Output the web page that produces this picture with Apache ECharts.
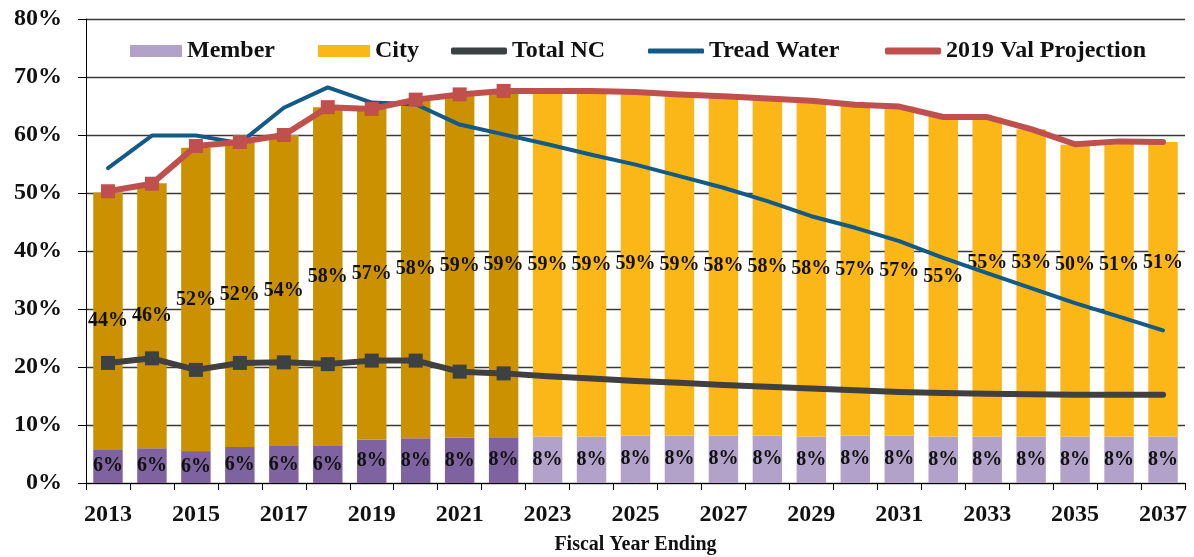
<!DOCTYPE html>
<html>
<head>
<meta charset="utf-8">
<script src="https://cdn.jsdelivr.net/npm/echarts@6/dist/echarts.min.js"></script>
<style>
  html, body { margin: 0; padding: 0; background: #fff; }
  #chart { width: 1194px; height: 557px; }
</style>
</head>
<body>
<div id="chart"></div>
<script>
// fiscal years, actuals through 2022, projections after
const years = ["2013","2014","2015","2016","2017","2018","2019","2020","2021","2022","2023","2024","2025",
  "2026","2027","2028","2029","2030","2031","2032","2033","2034","2035","2036","2037"];
const lastActualYear = 2022;

// contribution rates, % of payroll
const member = [5.8, 6.0, 5.5, 6.2, 6.4, 6.4, 7.5, 7.7, 7.8, 7.9, 8.0, 8.0, 8.2,
  8.2, 8.2, 8.2, 8.0, 8.2, 8.2, 8.0, 8.0, 8.0, 8.0, 8.0, 8.0];
const city = [44.3, 45.7, 52.3, 52.4, 53.6, 58.4, 57.0, 58.3, 59.2, 59.4, 59.4, 59.4, 59.1,
  58.8, 58.4, 58.1, 57.8, 57.0, 56.7, 55.1, 55.0, 53.0, 50.3, 50.8, 50.8];
const totalNC = [20.7, 21.5, 19.5, 20.7, 20.8, 20.5, 21.1, 21.1, 19.2, 18.9, 18.4, 18.0, 17.6,
  17.3, 16.9, 16.6, 16.3, 16.0, 15.7, 15.5, 15.4, 15.3, 15.2, 15.2, 15.2];
const treadWater = [54.3, 59.9, 59.9, 58.6, 64.7, 68.2, 65.6, 65.3, 61.8, 60.1, 58.4, 56.6, 54.9,
  52.9, 50.9, 48.6, 46.0, 44.0, 41.7, 38.8, 36.2, 33.6, 31.0, 28.7, 26.3];
const valProjection = [50.3, 51.6, 58.1, 58.8, 60.0, 64.8, 64.5, 66.1, 67.0, 67.6, 67.6, 67.6, 67.4,
  67.0, 66.7, 66.3, 65.9, 65.2, 64.9, 63.1, 63.1, 61.0, 58.4, 58.9, 58.8];

const yTicks = { min: 0, max: 80, interval: 10 };

const FONT = "'Liberation Serif', 'Times New Roman', serif";
const C = {
  memberDark: "#7f63a1", memberLight: "#b2a1c8",
  cityDark: "#cb9100", cityLight: "#fbb718",
  nc: "#404040", ncMarker: "#3b4241",
  tread: "#135a86", val: "#c0504d",
  grid: "#3a3a3a",
};

const isActual = (i) => Number(years[i]) <= lastActualYear;

// the last few city labels were dragged up by hand in the original
const cityLabelLift = { 2033: 14, 2034: 20, 2035: 26, 2036: 24, 2037: 26 };

const barData = (vals, dark, light, lift) =>
  vals.map((v, i) => {
    const d = { value: v, itemStyle: { color: isActual(i) ? dark : light } };
    if (lift && lift[years[i]]) d.label = { offset: [0, -lift[years[i]]] };
    return d;
  });

const pctLabel = {
  show: true,
  position: "inside",
  fontFamily: FONT,
  fontWeight: "bold",
  fontSize: 20,
  color: "#111",
  formatter: (p) => Math.round(p.value) + "%",
};

const legendText = { fontFamily: FONT, fontWeight: "bold", fontSize: 24, color: "#111" };
const legendAt = (name, left, icon, w, h) => ({
  data: [name], left, top: 34, icon, itemWidth: w, itemHeight: h, textStyle: legendText,
  selectedMode: false,
});

const chart = echarts.init(document.getElementById("chart"), null, { renderer: "canvas" });

chart.setOption({
  animation: false,
  backgroundColor: "#fff",
  grid: { left: 86, right: 9, top: 19, bottom: 74, containLabel: false, outerBoundsMode: "none" },
  legend: [
    legendAt("Member", 125, "rect", 52, 12),
    legendAt("City", 313, "rect", 52, 12),
    legendAt("Total NC", 446, "roundRect", 56, 7),
    legendAt("Tread Water", 643, "roundRect", 56, 5),
    legendAt("2019 Val Projection", 880, "roundRect", 56, 7),
  ],
  xAxis: {
    type: "category",
    data: years,
    boundaryGap: true,
    name: "Fiscal Year Ending",
    nameLocation: "middle",
    nameGap: 52,
    nameTextStyle: { fontFamily: FONT, fontWeight: "bold", fontSize: 20, color: "#111" },
    axisLine: { lineStyle: { color: "#000", width: 1 } },
    axisTick: { show: true, interval: 0, length: 7, lineStyle: { color: "#000" } },
    axisLabel: {
      interval: 1,
      margin: 20,
      fontFamily: FONT, fontWeight: "bold", fontSize: 24, color: "#111",
    },
    splitLine: { show: false },
  },
  yAxis: {
    type: "value",
    min: yTicks.min,
    max: yTicks.max,
    interval: yTicks.interval,
    axisLine: { show: true, lineStyle: { color: "#000", width: 1 } },
    axisTick: { show: true, length: 8, lineStyle: { color: "#000" } },
    axisLabel: {
      margin: 24,
      formatter: "{value}%",
      fontFamily: FONT, fontWeight: "bold", fontSize: 24, color: "#111",
    },
    splitLine: { show: true, lineStyle: { color: C.grid, width: 1.3 } },
  },
  tooltip: { show: false },
  series: [
    {
      name: "Member",
      type: "bar",
      stack: "rate",
      barCategoryGap: "33%",
      color: C.memberLight,
      data: barData(member, C.memberDark, C.memberLight),
      label: pctLabel,
    },
    {
      name: "City",
      type: "bar",
      stack: "rate",
      color: C.cityLight,
      data: barData(city, C.cityDark, C.cityLight, cityLabelLift),
      label: pctLabel,
    },
    {
      name: "Total NC",
      type: "line",
      data: totalNC,
      color: C.nc,
      symbol: (v, p) => (isActual(p.dataIndex) ? "rect" : "none"),
      symbolSize: 14,
      itemStyle: { color: C.ncMarker },
      lineStyle: { width: 6, color: C.nc, cap: "round", join: "round" },
      z: 3,
    },
    {
      name: "Tread Water",
      type: "line",
      data: treadWater,
      color: C.tread,
      symbol: "none",
      lineStyle: { width: 4, color: C.tread, cap: "round", join: "round" },
      z: 3,
    },
    {
      name: "2019 Val Projection",
      type: "line",
      data: valProjection,
      color: C.val,
      symbol: (v, p) => (isActual(p.dataIndex) ? "rect" : "none"),
      symbolSize: 14,
      itemStyle: { color: C.val },
      lineStyle: { width: 6, color: C.val, cap: "round", join: "round" },
      z: 4,
    },
  ],
});
</script>
</body>
</html>
